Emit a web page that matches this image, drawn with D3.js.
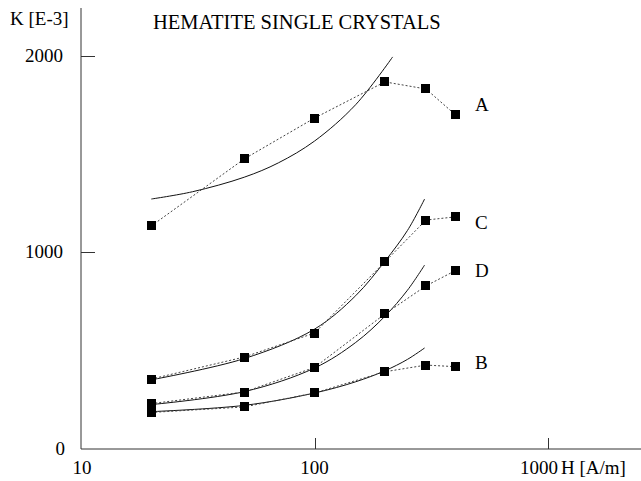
<!DOCTYPE html>
<html>
<head>
<meta charset="utf-8">
<script src="https://cdn.jsdelivr.net/npm/d3@7"></script>
<style>
  html, body { margin: 0; padding: 0; background: #fff; }
  svg { display: block; }
  text { font-family: "Liberation Serif", "DejaVu Serif", serif; fill: #000; }
</style>
</head>
<body>
<div id="chart"></div>
<script>
// measured points (H in A/m, K in E-3)
const fieldH = [20, 50, 100, 200, 300, 400];
const seriesA = [1135, 1476, 1684, 1868, 1832, 1702];
const seriesC = [356, 468, 590, 952, 1165, 1181];
const seriesD = [231, 290, 415, 687, 830, 907];
const seriesB = [186, 214, 285, 393, 427, 419];

// fitted curves
const fitHA = [20, 30, 50, 70, 100, 150, 216];
const fitA = [1272, 1309, 1383, 1456, 1567, 1752, 1995];
const fitH = [20, 50, 100, 150, 200, 250, 296];
const fitC = [352, 460, 610, 780, 955, 1112, 1272];
const fitD = [226, 292, 412, 542, 675, 808, 936];
const fitB = [190, 222, 285, 342, 398, 456, 514];

const seriesNames = ['A', 'C', 'D', 'B'];
const xTicks = [100, 1000];
const yTicks = [2000, 1000];

const width = 641, height = 481;

const svg = d3.select('#chart').append('svg')
    .attr('width', width)
    .attr('height', height);

const x = d3.scaleLog().domain([10, 2500]).range([81, 641]);
const y = d3.scaleLinear().domain([0, 2244]).range([449, 8]);

// axes: plain lines with short inward ticks
const axisColor = '#333';
svg.append('line')
    .attr('x1', x(10)).attr('x2', x(10))
    .attr('y1', y(2244)).attr('y2', y(0))
    .attr('stroke', axisColor);
svg.append('line')
    .attr('x1', x(10)).attr('x2', width)
    .attr('y1', y(0)).attr('y2', y(0))
    .attr('stroke', axisColor);

svg.selectAll('.ytick')
    .data(yTicks)
    .enter().append('line')
    .attr('x1', x(10)).attr('x2', x(10) + 14)
    .attr('y1', d => Math.round(y(d)) + 0.5).attr('y2', d => Math.round(y(d)) + 0.5)
    .attr('stroke', axisColor);

svg.selectAll('.xtick')
    .data(xTicks)
    .enter().append('line')
    .attr('x1', d => Math.round(x(d)) + 0.5).attr('x2', d => Math.round(x(d)) + 0.5)
    .attr('y1', y(0)).attr('y2', y(0) - 11)
    .attr('stroke', axisColor);

// tick labels
const fs = '19px';
svg.selectAll('.ylab')
    .data([2000, 1000, 0])
    .enter().append('text')
    .attr('x', d => d === 0 ? 65 : 63)
    .attr('y', d => y(d) + 6)
    .attr('text-anchor', 'end')
    .style('font-size', fs)
    .text(d => d);

svg.append('text')
    .attr('x', x(10) + 1).attr('y', 474)
    .attr('text-anchor', 'middle')
    .style('font-size', fs)
    .text('10');
svg.append('text')
    .attr('x', x(100)).attr('y', 474)
    .attr('text-anchor', 'middle')
    .style('font-size', fs)
    .text('100');
svg.append('text')
    .attr('x', x(1000) - 9).attr('y', 474)
    .attr('text-anchor', 'middle')
    .style('font-size', fs)
    .text('1000');
svg.append('text')
    .attr('x', 561).attr('y', 474)
    .style('font-size', fs)
    .text('H [A/m]');

svg.append('text')
    .attr('x', 10).attr('y', 25)
    .style('font-size', fs)
    .text('K [E-3]');

svg.append('text')
    .attr('x', 153).attr('y', 29)
    .style('font-size', '20.5px')
    .text('HEMATITE SINGLE CRYSTALS');

// fitted solid curves
const fitLine = d3.line()
    .x(d => x(d[0]))
    .y(d => y(d[1]))
    .curve(d3.curveCatmullRom.alpha(0.5));

const fits = [
    d3.zip(fitHA, fitA),
    d3.zip(fitH, fitC),
    d3.zip(fitH, fitD),
    d3.zip(fitH, fitB)
];

svg.selectAll('.fit')
    .data(fits)
    .enter().append('path')
    .attr('d', fitLine)
    .attr('fill', 'none')
    .attr('stroke', '#111')
    .attr('stroke-width', 1);

// dotted connectors + square markers
const measured = [seriesA, seriesC, seriesD, seriesB].map(s => d3.zip(fieldH, s));
const dotLine = d3.line()
    .x(d => x(d[0]))
    .y(d => y(d[1]));

svg.selectAll('.dots')
    .data(measured)
    .enter().append('path')
    .attr('d', dotLine)
    .attr('fill', 'none')
    .attr('stroke', '#444')
    .attr('stroke-width', 1)
    .attr('stroke-dasharray', '2,2');

const sq = 9;
measured.forEach(s => {
    svg.selectAll(null)
        .data(s)
        .enter().append('rect')
        .attr('x', d => Math.round(x(d[0]) - sq / 2))
        .attr('y', d => Math.round(y(d[1]) - sq / 2))
        .attr('width', sq)
        .attr('height', sq)
        .attr('fill', '#000');
});

// series labels next to the last point
const labelY = [111, 229, 277, 369];
svg.selectAll('.slab')
    .data(seriesNames)
    .enter().append('text')
    .attr('x', 475)
    .attr('y', (d, i) => labelY[i])
    .style('font-size', fs)
    .text(d => d);
</script>
</body>
</html>
